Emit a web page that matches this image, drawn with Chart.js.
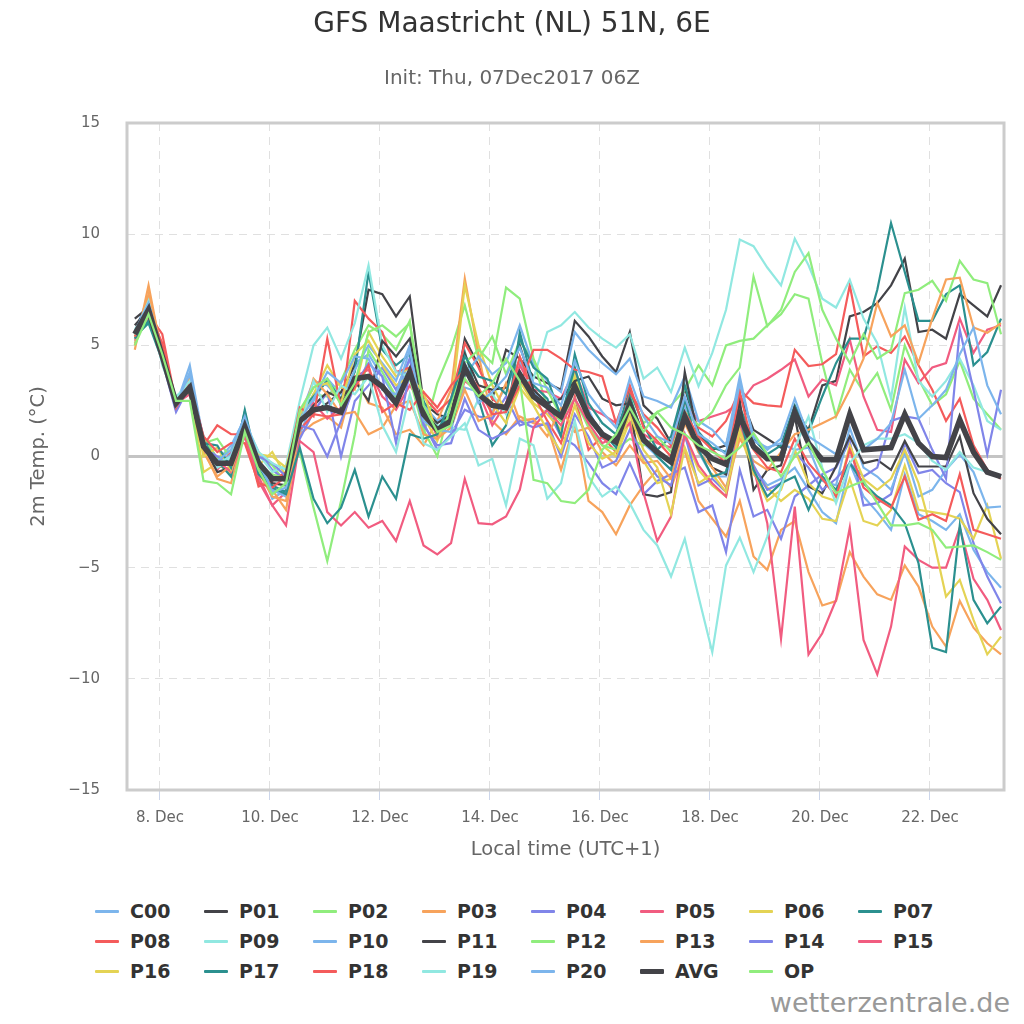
<!DOCTYPE html>
<html><head><meta charset="utf-8">
<script src="https://cdn.jsdelivr.net/npm/chart.js@4.4.1/dist/chart.umd.min.js"></script>
<style>
html,body{margin:0;padding:0;background:#fff;width:1024px;height:1024px;overflow:hidden;}
#wrap{position:relative;width:1024px;height:1024px;font-family:'DejaVu Sans',sans-serif;}
#c{position:absolute;left:0;top:0;}
.sym{position:absolute;width:24px;}
.lab{position:absolute;font-weight:bold;font-size:19px;line-height:24px;color:#333;white-space:nowrap;}
#credit{position:absolute;right:14px;top:986px;font-size:27px;line-height:34px;color:#999;}
</style></head>
<body><div id="wrap"><canvas id="c" width="1024" height="880"></canvas><div id="legend"></div><div id="credit">wetterzentrale.de</div></div>
<script>
const chartTitle = 'GFS Maastricht (NL) 51N, 6E';
const chartSubtitle = 'Init: Thu, 07Dec2017 06Z';
const xAxisTitle = 'Local time (UTC+1)';
const yAxisTitle = '2m Temp. (°C)';
const firstTime = '2017-12-07T13:00';   // first forecast step, local time
const refTime = '2017-12-08T00:00';     // x = hours after this
const stepHours = 6;
const xTickHours = [0, 48, 96, 144, 192, 240, 288, 336];
const xTickLabels = ['8. Dec', '10. Dec', '12. Dec', '14. Dec', '16. Dec', '18. Dec', '20. Dec', '22. Dec'];
const yTickValues = [-15, -10, -5, 0, 5, 10, 15];
const yTickLabels = ['\u221215', '\u221210', '\u22125', '0', '5', '10', '15'];

const c00 = [5.6,7.2,4.6,2.3,4.1,0.7,-0.2,0.5,1.7,-0.2,-1.9,-1.5, 1.0,2.5,3.5,2.8,4.2,4.6,3.6,2.6,4.4,2.0,1.0,1.5, 3.1,2.9,2.0,3.2,4.3,2.9,2.2,1.6,3.3,2.1,0.8,0.6, 2.6,0.6,0.0,-0.6,2.2,0.2,-0.9,-0.9,1.4,-0.5,-1.3,-1.0, -0.5,-1.5,-2.5,-3.0,-0.3,-1.8,-2.5,-3.3,-0.8,-2.6,-2.9,-3.3,-2.6,-4.2,-5.2,-5.9];
const p01 = [6.2,6.7,4.4,2.5,3.0,0.5,-0.4,-0.6,1.3,-0.5,-0.9,-0.8, 1.6,2.0,2.4,2.9,4.1,7.5,7.3,6.3,7.2,2.4,1.9,1.7, 5.3,4.1,2.6,4.8,4.4,3.6,3.3,3.0,6.1,5.4,4.5,3.8, 5.6,2.3,1.7,0.6,3.1,1.0,0.3,0.5,2.8,1.2,0.8,0.4, 2.0,1.2,3.2,3.4,6.3,6.5,6.9,7.7,8.9,5.6,5.7,5.3,7.3,6.8,6.3,7.7];
const p02 = [5.3,6.9,4.6,2.2,3.0,0.6,0.8,-0.1,1.4,0.0,-0.4,-1.2, 1.7,2.8,2.7,3.4,4.8,5.9,5.5,4.8,6.1,1.0,3.3,4.8, 6.8,4.4,5.4,3.7,5.2,4.3,2.2,1.6,3.8,1.6,1.0,0.8, 2.9,1.5,2.0,2.3,3.0,4.1,3.2,5.0,5.2,5.3,5.9,6.4, 7.3,7.1,4.2,1.8,3.9,2.9,3.75,2.1,5.0,3.5,2.3,2.8,4.3,2.6,1.9,1.2];
const p03 = [4.8,7.7,4.5,2.1,3.6,0.3,-1.0,-1.2,1.2,-0.6,-1.5,-2.4, 1.0,1.5,1.8,1.3,3.6,2.4,2.2,1.0,1.2,0.5,1.6,3.0, 8.0,4.6,1.6,1.0,1.8,1.5,1.4,-0.6,1.5,-2.0,-2.5,-3.5, -2.2,-1.3,-0.6,-1.4,0.3,-2.0,-2.8,-3.6,-2.0,-4.5,-5.1,-3.3, -2.9,-5.2,-6.7,-6.5,-4.3,-5.4,-6.2,-6.45,-4.9,-5.85,-7.65,-8.55,-6.5,-7.7,-8.4,-8.9];
const p04 = [5.4,6.5,4.3,2.0,3.2,0.9,-0.1,-0.4,1.5,0.2,-0.6,-1.1, 0.8,2.0,2.9,0.0,2.5,3.2,4.0,3.0,4.4,1.5,0.3,1.0, 2.1,1.8,1.7,2.7,1.4,1.6,2.1,0.9,0.5,-0.3,-1.2,-1.7, -0.3,-1.7,-1.1,-0.8,-0.5,-2.5,-2.2,-4.3,-0.6,-2.7,-2.4,-3.7, -1.8,-1.3,-0.8,-0.5,0.7,-2.2,-2.1,-1.7,0.6,-0.75,-0.6,-1.2,-1.6,-3.9,-5.4,-6.6];
const p05 = [5.2,6.3,4.7,2.6,2.9,0.4,-0.6,0.2,1.0,-0.9,-2.2,-1.6, 2.0,2.4,1.7,2.2,3.6,3.9,2.7,2.1,3.2,2.3,0.9,1.5, 3.4,2.9,1.4,2.4,4.1,3.0,2.9,2.6,3.9,2.2,1.9,1.5, 2.2,1.0,0.6,0.4,2.5,1.6,1.8,2.0,2.4,3.2,3.5,3.9, 4.36,2.7,3.46,3.2,5.26,2.7,1.2,1.1,4.36,3.3,4.0,4.2,6.2,4.66,5.7,5.9];
const p06 = [5.5,6.5,4.4,2.5,2.9,-0.7,-0.3,-0.8,1.1,-0.4,0.2,-0.9, 1.4,2.8,4.1,3.1,3.0,5.6,4.5,3.6,4.0,1.8,0.7,2.2, 7.7,5.0,3.2,2.0,3.4,2.4,1.9,1.2,3.6,1.3,0.5,0.0, 1.6,-0.2,-1.2,-1.0,0.9,-0.6,-1.3,-1.8,1.1,-0.8,-1.4,-2.0, -1.5,-1.9,-2.8,-2.9,-1.0,-2.9,-3.1,-2.4,-0.4,-2.4,-2.5,-2.6,-2.8,-3.7,-2.2,-4.6];
const p07 = [5.4,6.0,4.3,2.3,3.0,0.8,-0.2,-0.9,2.1,-0.6,-1.3,-1.6, 2.0,2.7,3.4,2.6,3.8,8.3,4.8,4.1,4.6,2.5,1.3,1.8, 4.7,2.6,0.5,1.4,5.6,3.2,2.6,0.9,4.6,2.4,1.5,1.0, 3.0,1.4,0.3,0.9,3.2,1.1,0.4,0.2,2.2,0.8,0.1,0.5, 2.3,1.1,2.7,4.2,5.3,5.3,7.5,10.5,8.3,6.1,6.1,7.3,7.7,4.1,4.7,6.2];
const p08 = [5.6,6.4,5.5,2.4,3.4,0.5,1.4,1.0,1.0,-1.35,-1.1,-0.7, 1.2,1.9,1.8,1.9,7.0,6.2,5.6,3.8,4.0,2.7,2.0,2.6, 5.1,4.0,2.6,2.1,4.5,2.8,1.6,0.6,2.7,0.3,0.9,0.2, 2.9,1.9,1.3,0.5,2.5,1.3,0.9,1.6,3.0,2.4,2.3,2.25, 4.8,4.07,4.15,4.6,7.7,4.5,4.96,4.66,5.4,4.1,3.0,1.6,2.6,0.5,-0.6,-1.0];
const p09 = [5.7,6.8,4.2,2.7,3.3,0.6,-0.5,-0.1,1.3,0.1,-0.7,-0.4, 2.5,5.0,5.8,4.4,6.0,8.6,5.0,3.8,3.6,2.2,1.4,1.3, 1.2,2.6,2.8,1.9,3.3,3.5,5.6,5.9,6.5,5.8,5.3,4.9, 5.5,3.5,4.0,2.9,4.9,3.16,4.66,6.6,9.76,9.46,8.5,7.7, 9.8,8.6,7.1,6.7,7.95,6.2,5.1,2.6,6.7,3.4,2.7,3.4,4.4,3.2,1.6,1.2];
const p10 = [5.5,7.0,4.6,2.4,3.7,0.3,-0.4,0.1,1.6,-0.3,-1.5,-1.8, 1.8,3.4,3.2,2.5,3.9,5.0,4.2,3.4,5.0,2.3,1.6,2.0, 3.6,4.5,3.7,4.2,5.9,4.1,3.4,2.9,5.6,4.8,4.2,3.7, 4.4,2.7,2.5,2.2,3.6,1.6,1.2,0.5,3.6,0.7,0.4,0.6, 0.3,0.4,-1.1,-1.3,1.3,-0.5,-0.9,-1.5,0.2,-1.8,-1.5,-0.6,0.1,-0.7,-2.3,-2.25];
const p11 = [5.9,6.6,4.5,2.2,3.1,0.5,-0.7,-0.5,1.2,-0.2,-1.2,-1.3, 1.5,2.3,2.9,2.6,3.4,2.5,5.2,4.5,5.3,2.1,1.5,1.9, 4.6,3.2,3.0,3.1,5.0,3.0,2.4,2.6,3.4,3.6,2.6,2.3, 2.4,-1.7,-1.8,-1.6,3.8,0.8,-0.5,-0.8,2.5,-1.5,-0.6,-0.4, 1.8,-1.35,-1.65,-0.45,0.9,-0.3,-0.15,-0.6,0.7,-0.45,-0.45,-0.45,0.9,-1.65,-2.8,-3.5];
const p12 = [5.1,6.6,4.4,2.6,2.8,0.9,-0.1,0.3,1.2,-0.5,-0.8,-1.0, 0.2,-2.3,-4.7,-2.0,1.0,4.8,3.8,2.7,3.5,1.2,0.0,2.4, 4.2,4.8,4.2,7.6,7.1,4.4,3.0,1.8,2.6,1.3,0.5,0.3, 0.8,0.5,0.9,0.2,2.0,1.4,2.0,3.2,4.0,8.1,5.86,6.6, 8.3,9.15,6.6,5.3,4.2,5.5,4.4,4.8,7.35,7.5,7.9,7.0,8.8,7.96,7.8,5.5];
const p13 = [5.0,7.3,4.8,2.3,3.4,0.2,-0.9,-0.4,1.5,-0.7,-1.8,-2.0, 1.3,3.5,2.8,1.9,2.0,1.0,1.3,2.3,2.5,1.0,0.8,1.3, 3.0,1.6,1.9,3.3,1.6,1.7,0.9,2.2,1.1,1.3,0.2,-0.4, 0.5,-0.3,-0.2,-1.0,1.5,0.2,-0.5,-1.4,0.8,-0.2,-0.6,0.2, 1.0,1.2,1.5,1.8,3.0,4.4,6.9,5.4,5.9,4.2,6.2,7.96,8.04,5.8,5.56,6.0];
const p14 = [5.6,6.6,4.5,2.1,3.3,0.4,0.0,-0.3,1.4,0.0,-0.3,-0.9, 1.4,1.2,0.0,1.6,3.2,4.2,3.6,0.6,3.8,1.4,0.5,0.6, 2.6,1.2,0.8,1.1,1.6,1.3,1.5,0.0,1.9,0.9,-0.5,-0.2, 1.2,0.0,-0.9,-1.3,1.0,-1.3,-1.0,-1.6,1.6,-0.4,-1.5,-1.2, 0.2,-0.5,-1.5,-1.0,-0.3,-0.9,-0.5,1.6,1.8,1.7,0.3,-1.0,5.7,3.0,0.1,3.0];
const p15 = [5.3,6.2,4.9,2.4,2.8,0.3,-0.2,-0.7,0.9,-1.1,-2.2,-3.1, 0.7,0.2,-2.5,-3.1,-2.5,-3.2,-2.9,-3.8,-2.0,-4.0,-4.4,-3.9, -1.0,-3.0,-3.05,-2.7,-1.5,1.3,2.1,1.4,2.6,1.5,0.6,0.9, 1.5,-1.64,-3.8,-2.7,1.0,-0.4,-1.2,-1.8,1.5,-0.5,-3.0,-8.2, -2.25,-8.9,-7.95,-6.45,-3.2,-8.25,-9.8,-7.65,-4.05,-4.65,-5.0,-5.0,-3.2,-5.5,-6.45,-7.8];
const p16 = [5.4,6.7,4.3,2.6,3.0,0.0,0.4,-0.6,1.2,0.1,0.0,-0.5, 1.9,3.1,3.3,2.4,4.6,5.2,4.1,3.2,3.6,2.9,1.0,1.6, 3.8,3.0,2.4,1.5,3.1,2.3,1.2,0.2,2.3,0.6,-0.1,0.2, 1.9,0.3,-0.5,-2.6,0.4,-1.2,-0.8,-1.6,1.2,-0.6,-2.0,-1.5, 0.3,-1.2,-1.8,-2.0,0.5,-1.0,-1.5,-1.0,0.3,-1.2,-3.5,-6.3,-5.55,-7.35,-8.9,-8.1];
const p17 = [5.3,6.1,4.4,2.5,3.2,0.6,0.5,-0.5,2.0,-0.8,-1.4,-1.7, 0.4,-1.9,-3.0,-2.3,-0.6,-2.7,-0.9,-1.9,1.0,0.8,1.0,2.6, 4.5,3.6,3.4,2.8,5.3,4.0,3.5,1.8,4.0,1.9,1.1,0.4, 2.7,0.9,0.0,-0.6,2.6,0.3,-0.9,-0.7,1.8,-0.6,-1.8,-1.2, -0.9,-2.4,-0.9,-1.5,-0.3,-1.2,-1.8,-2.2,-3.0,-4.8,-8.6,-8.8,-3.1,-6.45,-7.5,-6.75];
const p18 = [5.4,6.5,5.1,2.2,3.3,0.9,0.2,0.6,0.6,-1.2,-1.4,-0.9, 2.2,1.8,5.3,2.2,3.1,4.1,2.0,2.4,2.1,2.9,2.2,3.2, 3.9,3.1,1.9,2.0,3.2,4.8,4.8,4.4,3.9,3.8,3.6,1.5, 3.2,1.3,0.7,0.0,2.0,0.9,0.3,-0.3,2.9,0.3,-0.5,-0.7, 0.8,-0.3,-1.0,-1.8,0.3,-1.4,-1.9,-2.3,-0.9,-2.85,-2.6,-2.9,-0.8,-3.3,-3.5,-3.7];
const p19 = [5.5,7.0,4.1,2.6,3.4,0.5,-0.3,0.0,1.6,0.2,-0.3,-0.6, 1.3,3.4,2.0,3.2,2.8,3.6,1.4,0.2,2.8,0.6,0.3,0.9, 1.5,-0.4,-0.1,-2.2,0.8,0.5,-1.9,-1.2,1.6,-0.9,-1.8,-1.35, -2.1,-3.3,-4.0,-5.4,-3.7,-6.3,-8.8,-4.9,-3.65,-5.2,-3.6,-1.35, 0.4,1.8,-0.5,-2.1,-0.3,0.5,0.8,0.8,1.0,0.6,-0.2,-0.6,0.2,-0.5,-0.7,-0.9];
const p20 = [5.6,6.9,4.7,2.3,3.8,0.5,-0.2,0.3,1.8,-0.1,-1.6,-1.4, 1.6,2.6,3.8,3.3,4.5,4.4,3.0,2.8,4.8,1.6,1.2,1.1, 4.2,2.4,2.9,3.6,4.9,3.3,3.1,2.3,4.3,2.8,2.0,1.3, 3.5,1.8,0.9,0.6,2.7,1.0,0.6,0.1,3.3,0.9,0.3,0.8, 2.6,0.9,0.5,0.1,1.8,0.3,0.8,1.5,3.9,1.7,2.3,3.0,4.6,5.8,3.2,1.9];
const avg = [5.5,6.6,4.5,2.4,3.1,0.45,-0.3,-0.3,1.35,-0.3,-1.0,-1.0, 1.6,2.1,2.2,2.0,3.5,3.6,3.15,2.4,3.8,1.9,1.2,1.6, 4.0,2.8,2.3,2.2,3.7,2.7,2.25,1.8,3.15,1.8,1.0,0.65, 2.35,0.75,0.2,-0.25,1.8,0.45,-0.1,-0.35,1.8,0.45,-0.1,-0.1, 2.0,0.6,-0.15,-0.15,1.9,0.3,0.35,0.4,1.9,0.6,0,-0.05,1.65,0.2,-0.7,-0.9];
const op = [5.0,6.4,4.6,2.5,2.5,-1.1,-1.2,-1.7,1.1,-0.6,-1.7,-1.2, 2.1,3.1,3.5,2.3,3.3,5.6,5.9,5.4,6.0,2.3,1.1,1.4, 3.5,2.7,3.3,4.4,3.4,-1.05,-1.2,-2.0,-2.1,-1.5,0.3,1.0, 2.2,1.1,2.0,1.3,1.0,0.5,0.2,-0.1,0.4,1.06,0.1,-0.9, 0.0,0.6,-0.6,-1.65,-1.35,-1.1,-2.1,-3.1,-3.1,-3.0,-3.3,-4.1,-4.05,-4.0,-4.3,-4.65];

const seriesNames = ['C00','P01','P02','P03','P04','P05','P06','P07','P08','P09','P10','P11','P12','P13','P14','P15','P16','P17','P18','P19','P20','AVG','OP'];
const seriesValues = [c00,p01,p02,p03,p04,p05,p06,p07,p08,p09,p10,p11,p12,p13,p14,p15,p16,p17,p18,p19,p20,avg,op];
const seriesColors = ['#7cb5ec','#434348','#90ed7d','#f7a35c','#8085e9','#f15c80','#e4d354','#2b908f','#f45b5b','#91e8e1',
                      '#7cb5ec','#434348','#90ed7d','#f7a35c','#8085e9','#f15c80','#e4d354','#2b908f','#f45b5b','#91e8e1',
                      '#7cb5ec','#434348','#90ed7d'];

const FONT = "'DejaVu Sans', sans-serif";
const startOffset = (Date.parse(firstTime + 'Z') - Date.parse(refTime + 'Z')) / 3600000;

const datasets = seriesNames.map((name, k) => ({
  label: name,
  data: seriesValues[k].map((v, i) => ({x: startOffset + i * stepHours, y: v})),
  borderColor: seriesColors[k],
  backgroundColor: seriesColors[k],
  borderWidth: name === 'AVG' ? 5.5 : 2.2,
  pointRadius: 0,
  pointHoverRadius: 0,
  tension: 0,
  fill: false,
  order: seriesNames.length - k
}));

const framePlugin = {
  id: 'frame',
  beforeDatasetsDraw(chart) {
    const {ctx, chartArea: a, scales: {y}} = chart;
    const y0 = y.getPixelForValue(0);
    ctx.save();
    ctx.strokeStyle = '#c4c4c4';
    ctx.lineWidth = 3;
    ctx.beginPath(); ctx.moveTo(a.left, y0); ctx.lineTo(a.right, y0); ctx.stroke();
    ctx.restore();
  },
  afterDatasetsDraw(chart) {
    const {ctx, chartArea: a} = chart;
    ctx.save();
    ctx.strokeStyle = '#cccccc';
    ctx.lineWidth = 3;
    ctx.strokeRect(a.left, a.top, a.right - a.left, a.bottom - a.top);
    ctx.restore();
  }
};

new Chart(document.getElementById('c'), {
  type: 'line',
  data: {datasets},
  options: {
    responsive: false,
    animation: false,
    devicePixelRatio: 1,
    events: [],
    layout: {padding: 0},
    plugins: {
      legend: {display: false},
      tooltip: {enabled: false},
      title: {display: true, text: chartTitle, color: '#333333', font: {family: FONT, size: 28, weight: 'normal'}, padding: {top: 8, bottom: 4}},
      subtitle: {display: true, text: chartSubtitle, color: '#666666', font: {family: FONT, size: 20, weight: 'normal'}, padding: {top: 21.4, bottom: 32}}
    },
    scales: {
      x: {
        type: 'linear', min: -14.4, max: 368.3,
        afterBuildTicks: s => { s.ticks = xTickHours.map(v => ({value: v})); },
        afterFit: s => { s.height = 90; },
        ticks: {
          autoSkip: false, maxRotation: 0, color: '#666666', padding: 9,
          font: {family: FONT, size: 15},
          callback: v => { const i = xTickHours.indexOf(v); return i >= 0 ? xTickLabels[i] : ''; }
        },
        grid: {color: '#e0e0e0', lineWidth: 1, drawTicks: true, tickLength: 10, tickColor: '#ccd6eb', tickWidth: 1},
        border: {display: false, dash: [8, 6]},
        title: {display: true, text: xAxisTitle, color: '#666666', font: {family: FONT, size: 19.5}, padding: {top: 0, bottom: 18}}
      },
      y: {
        type: 'linear', min: -15, max: 15,
        afterBuildTicks: s => { s.ticks = yTickValues.map(v => ({value: v})); },
        afterFit: s => { s.width = 127; },
        ticks: {
          color: '#666666', padding: 27, font: {family: FONT, size: 15},
          callback: v => { const i = yTickValues.indexOf(v); return i >= 0 ? yTickLabels[i] : ''; }
        },
        grid: {color: '#e0e0e0', lineWidth: 1, drawTicks: false},
        border: {display: false, dash: [8, 6]},
        title: {display: true, text: yAxisTitle, color: '#666666', font: {family: FONT, size: 19.5}, padding: {top: 27, bottom: 0}}
      },
      yRight: {
        type: 'linear', position: 'right', display: true,
        ticks: {display: false},
        grid: {display: false, drawTicks: false},
        border: {display: false},
        afterFit: s => { s.width = 20; }
      }
    }
  },
  plugins: [framePlugin]
});

// legend (HTML, real text)
const leg = document.getElementById('legend');
seriesNames.forEach((name, k) => {
  const col = k % 8, row = Math.floor(k / 8);
  const x0 = 95 + 109 * col, yc = 911 + 30 * row;
  const lw = name === 'AVG' ? 5 : 3;
  const s = document.createElement('div');
  s.className = 'sym';
  s.style.left = x0 + 'px';
  s.style.top = (yc - lw / 2) + 'px';
  s.style.height = lw + 'px';
  s.style.background = seriesColors[k];
  s.style.borderRadius = '1px';
  leg.appendChild(s);
  const t = document.createElement('div');
  t.className = 'lab';
  t.style.left = (x0 + 35) + 'px';
  t.style.top = (yc - 12) + 'px';
  t.textContent = name;
  leg.appendChild(t);
});
</script>
</body></html>
